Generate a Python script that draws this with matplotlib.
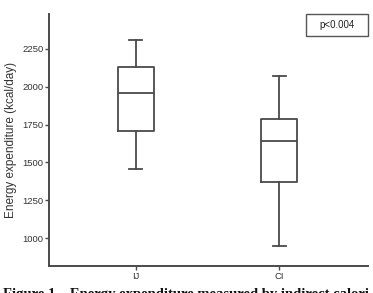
import matplotlib
matplotlib.use("Agg")
import matplotlib.pyplot as plt
from matplotlib.patches import Rectangle

categories = ["IJ", "CI"]
whisker_low = [1454, 945]
q1 = [1710, 1370]
median = [1956, 1642]
q3 = [2133, 1785]
whisker_high = [2309, 2073]
yticks = [1000, 1250, 1500, 1750, 2000, 2250]

plt.rcParams['font.family'] = ['Liberation Sans', 'DejaVu Sans']
W, H = 373, 293
fig = plt.figure(figsize=(W / 100, H / 100), dpi=100)
ax = fig.add_axes([0.131, 0.092, 0.856, 0.860])

lc = '#4a4a4a'
stats = []
for i, c in enumerate(categories):
    stats.append(dict(label=c, whislo=whisker_low[i], q1=q1[i], med=median[i],
                      q3=q3[i], whishi=whisker_high[i], fliers=[]))
props = dict(color=lc, linewidth=1.3)
ax.bxp(stats, positions=[1, 2], widths=0.25, showfliers=False,
       boxprops=props, whiskerprops=props, capprops=props,
       medianprops=props, capwidths=0.09)

ax.set_xlim(0.392, 2.622)
ax.set_ylim(815, 2480)
ax.set_yticks(yticks)
ax.set_yticklabels([str(v) for v in yticks])
ax.set_xticks([1, 2])
ax.set_xticklabels(categories)
for s in ['top', 'right']:
    ax.spines[s].set_visible(False)
for s in ['left', 'bottom']:
    ax.spines[s].set_color(lc)
    ax.spines[s].set_linewidth(1.4)
ax.tick_params(axis='both', colors=lc, labelcolor='#333333', labelsize=6.8,
               length=3, width=1, pad=1)
ax.set_ylabel("Energy expenditure (kcal/day)", fontsize=8.5, color='#333333', labelpad=4)

# p-value box
bx0, bx1, by0, by1 = 306, 368, 14, 36
fig.patches.append(Rectangle((bx0 / W, 1 - by1 / H), (bx1 - bx0) / W, (by1 - by0) / H,
                             transform=fig.transFigure, facecolor='white',
                             edgecolor='#555555', linewidth=1.0))
fig.text((bx0 + bx1) / 2 / W, 1 - (by0 + by1) / 2 / H, "p<0.004", fontsize=7,
         color='#222222', ha='center', va='center')

fig.text(0.008, 1 - 288 / H, "Figure 1 \u2013 Energy expenditure measured by indirect calori",
         fontsize=10.5, fontweight='bold', family=['Liberation Serif', 'DejaVu Serif'],
         ha='left', va='top', color='#111111')

fig.savefig("out.png", dpi=100)
